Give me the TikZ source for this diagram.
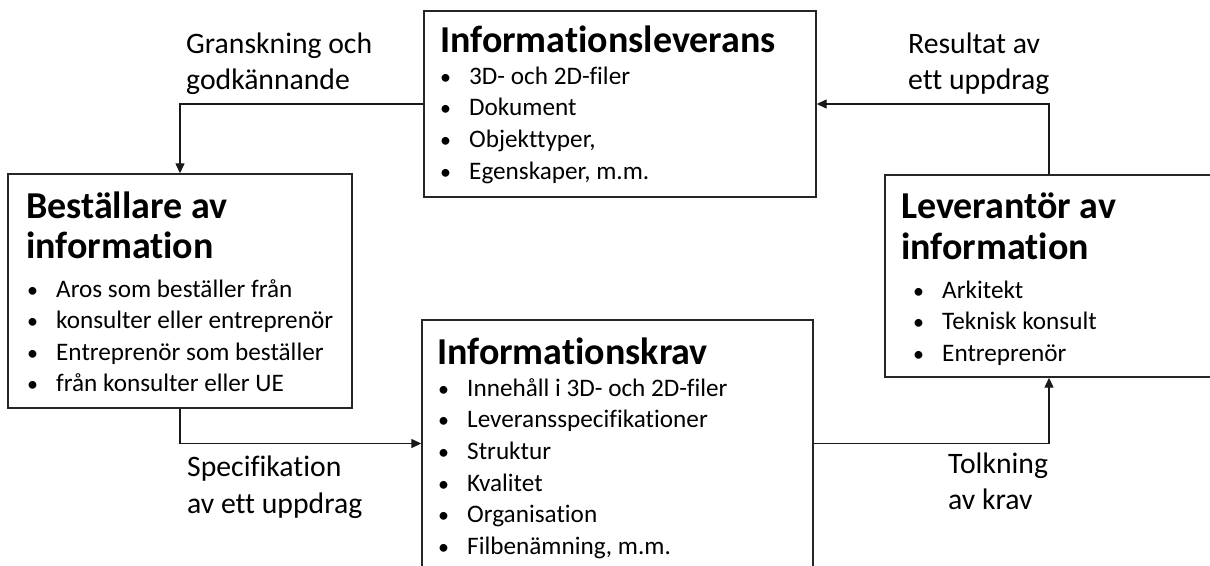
\documentclass[tikz,border=0pt]{standalone}
\usepackage{fontspec}
\setmainfont{Carlito}[Ligatures=NoCommon]
\usetikzlibrary{arrows.meta}
\tikzset{
 box/.style={draw=black!85, line width=1.4pt, rectangle, inner sep=0pt},
 ttl/.style={anchor=base west, inner sep=0pt, font=\fontsize{38}{44}\selectfont\bfseries},
 itm/.style={anchor=base west, inner sep=0pt, font=\fontsize{25.2}{30}\selectfont},
 lbl/.style={anchor=base west, inner sep=0pt, font=\fontsize{29.7}{36}\selectfont},
 conn/.style={line width=1.3pt, draw=black!90, -{Triangle[length=10pt,width=9pt]}},
}
\newcommand\bl[1]{\makebox[29pt][l]{\fontsize{22}{26}\selectfont •}#1}
\begin{document}
\begin{tikzpicture}[x=1pt,y=-1pt]
\clip (0,0) rectangle (1210,565);
\useasboundingbox (0,0) rectangle (1210,565);
\fill[white] (0,0) rectangle (1210,565);
% boxes
\node[box, minimum width=392pt, minimum height=186pt] (top) at (620,104) {};
\node[box, minimum width=344pt, minimum height=234pt] (left) at (180,291) {};
\node[box, minimum width=328pt, minimum height=202pt] (right) at (1049,276) {};
\node[box, minimum width=391pt, minimum height=247pt] (bot) at (617.5,443.5) {};
% titles
\node[ttl] (toptitle) at (440,52) {Informationsleverans};
\node[ttl] (lefttitle1) at (26,218) {Beställare av};
\node[ttl] (lefttitle2) at (26,258) {information};
\node[ttl] (righttitle1) at (901,218) {Leverantör av};
\node[ttl] (righttitle2) at (901,259) {information};
\node[ttl] (bottitle) at (437,364) {Informationskrav};
% bullets
\foreach \t [count=\i from 0] in {{3D- och 2D-filer},{Dokument},{Objekttyper,},{Egenskaper, m.m.}}
  \node[itm] (topi\i) at (440,{84+31.7*\i}) {\bl{\t}};
\foreach \t [count=\i from 0] in {{Aros som beställer från},{konsulter eller entreprenör},{Entreprenör som beställer},{från konsulter eller UE}}
  \node[itm] (lefti\i) at (27,{297+31.5*\i}) {\bl{\t}};
\foreach \t [count=\i from 0] in {{Arkitekt},{Teknisk konsult},{Entreprenör}}
  \node[itm] (righti\i) at (913,{298+31.5*\i}) {\bl{\t}};
\foreach \t [count=\i from 0] in {{Innehåll i 3D- och 2D-filer},{Leveransspecifikationer},{Struktur},{Kvalitet},{Organisation},{Filbenämning, m.m.}}
  \node[itm] (boti\i) at (438,{396+31.7*\i}) {\bl{\t}};
% labels
\node[lbl] (g1) at (186,53) {Granskning och};
\node[lbl] (g2) at (186,89) {godkännande};
\node[lbl] (r1) at (908,53) {Resultat av};
\node[lbl] (r2) at (908,89) {ett uppdrag};
\node[lbl] (s1) at (187,476) {Specifikation};
\node[lbl] (s2) at (187,513) {av ett uppdrag};
\node[lbl] (k1) at (948,473) {Tolkning};
\node[lbl] (k2) at (948,509) {av krav};
% connectors
\draw[conn] (top.west) -| (left.north);
\draw[conn] (right.north) |- (top.east);
\draw[conn] (left.south) |- (bot.west);
\draw[conn] (bot.east) -| (right.south);
\end{tikzpicture}
\end{document}
